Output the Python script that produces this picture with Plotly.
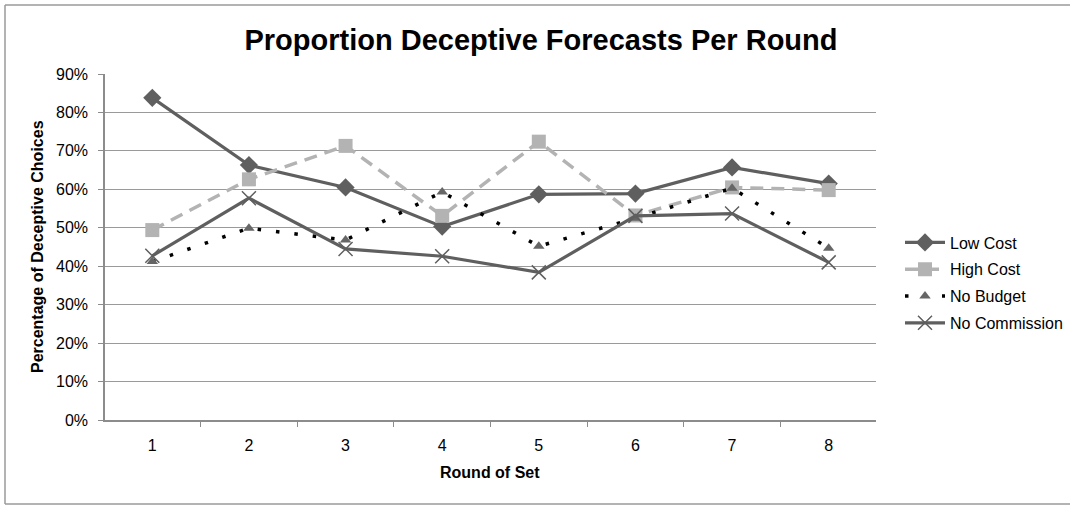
import plotly.graph_objects as go

rounds = ["1", "2", "3", "4", "5", "6", "7", "8"]
low_cost = [0.838, 0.663, 0.605, 0.503, 0.587, 0.589, 0.657, 0.615]
high_cost = [0.494, 0.626, 0.713, 0.531, 0.724, 0.532, 0.605, 0.598]
no_budget = [0.412, 0.499, 0.468, 0.593, 0.452, 0.525, 0.603, 0.447]
no_commission = [0.427, 0.577, 0.445, 0.426, 0.384, 0.531, 0.537, 0.410]

W, H = 1070, 506
L, R, T, B = 105, 194, 74, 86
pw, ph = W - L - R, H - T - B


def px_x(x):
    return (x - L) / pw


def px_y(y):
    return (H - B - y) / ph


font = "Liberation Sans, Arial, sans-serif"

fig = go.Figure()
fig.add_trace(go.Scatter(
    x=rounds, y=low_cost, name="Low Cost", mode="lines+markers",
    line=dict(color="#5f5f5f", width=3.2),
    marker=dict(symbol="diamond", size=14, color="#5f5f5f"),
    legendgroup="a"))
fig.add_trace(go.Scatter(
    x=rounds, y=high_cost, name="High Cost", mode="lines+markers",
    line=dict(color="#b3b3b3", width=3.5, dash="13px,8px"),
    marker=dict(symbol="square", size=14, color="#b3b3b3"),
    legendgroup="b"))
fig.add_trace(go.Scatter(
    x=rounds, y=no_budget, name="No Budget", mode="lines+markers",
    line=dict(color="#000000", width=3.5, dash="3.5px,15px"),
    marker=dict(symbol="triangle-up", size=10, color="#666666"),
    legendgroup="c"))
fig.add_trace(go.Scatter(
    x=rounds, y=no_commission, name="No Commission", mode="lines+markers",
    line=dict(color="#5f5f5f", width=3.2),
    marker=dict(symbol="x-thin-open", size=14, color="#5f5f5f",
                line=dict(color="#5f5f5f", width=1.5)),
    legendgroup="d"))

fig.update_layout(
    width=W, height=H,
    margin=dict(l=L, r=R, t=T, b=B, autoexpand=False),
    paper_bgcolor="white", plot_bgcolor="white",
    font=dict(family=font, color="#000000", size=16),
    title=dict(text="<b>Proportion Deceptive Forecasts Per Round</b>",
               font=dict(size=29, family=font, color="#000000"),
               x=541 / W, xanchor="center",
               y=1 - 40 / H, yanchor="middle"),
    showlegend=True,
    legend=dict(x=px_x(900), xanchor="left",
                y=px_y(283), yanchor="middle",
                font=dict(size=16, family=font),
                traceorder="grouped", tracegroupgap=3,
                itemwidth=40, bgcolor="rgba(0,0,0,0)"),
    xaxis=dict(type="category", showgrid=False, showline=True,
               linecolor="#8c8c8c", linewidth=1.5,
               ticks="outside", tickson="boundaries", ticklen=5,
               tickcolor="#8c8c8c", tickwidth=1.2,
               ticklabelstandoff=10,
               tickfont=dict(size=16, family=font)),
    yaxis=dict(range=[0, 0.9], dtick=0.1, tickformat=".0%",
               showgrid=True, gridcolor="#9a9a9a", gridwidth=1.3,
               showline=True, linecolor="#8c8c8c", linewidth=1.5,
               ticks="outside", ticklen=5, tickcolor="#8c8c8c",
               tickwidth=1.2, zeroline=False, ticklabelstandoff=7,
               tickfont=dict(size=16, family=font)),
)

fig.add_annotation(text="<b>Round of Set</b>", xref="paper", yref="paper",
                   x=px_x(490), y=px_y(472), xanchor="center",
                   yanchor="middle", showarrow=False,
                   font=dict(size=16, family=font, color="#000000"))
fig.add_annotation(text="<b>Percentage of Deceptive Choices</b>",
                   xref="paper", yref="paper",
                   x=px_x(37), y=px_y(247), xanchor="center",
                   yanchor="middle", showarrow=False, textangle=-90,
                   font=dict(size=16, family=font, color="#000000"))

# outer chart-area border: left, top and bottom edges (right edge is off-page)
border = dict(color="#9a9a9a", width=1.5)
for x0, y0, x1, y1 in [(5, 5, 5, 504), (5, 5, 1110, 5), (5, 504, 1110, 504)]:
    fig.add_shape(type="line", xref="paper", yref="paper",
                  x0=px_x(x0), y0=px_y(y0), x1=px_x(x1), y1=px_y(y1),
                  line=border, layer="below")

fig.write_html("out.html", config={"displayModeBar": False},
               post_script="document.body.style.margin='0';"
                           "document.documentElement.style.margin='0';")
